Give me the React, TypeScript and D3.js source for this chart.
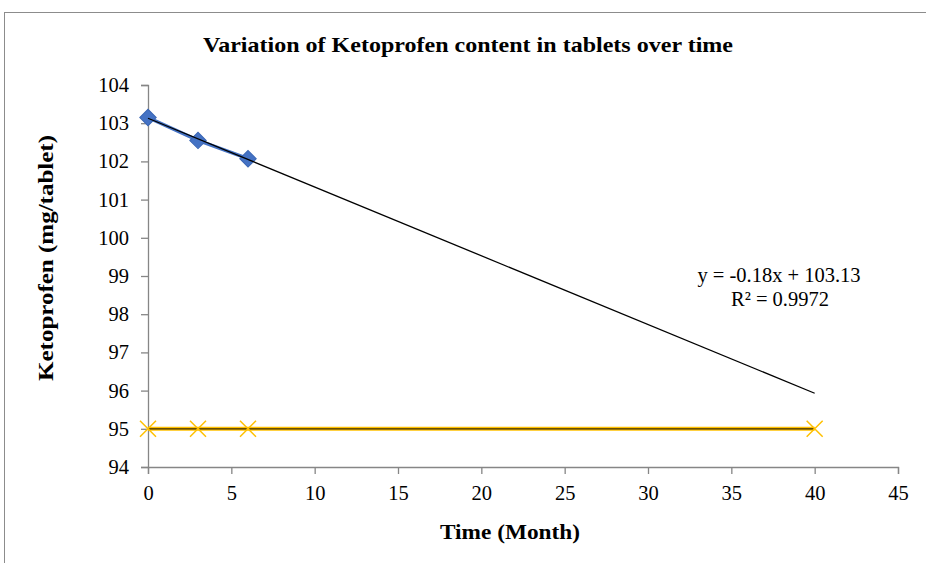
import React, { useEffect, useRef } from 'react';
import * as d3 from 'd3';

const months = [0, 3, 6];
const content = [103.15, 102.55, 102.07];
const limitX = [0, 3, 6, 40];
const limitY = [95, 95, 95, 95];
const trendSlope = -0.18;
const trendIntercept = 103.13;
const trendEnd = 40;
const xTicks = [0, 5, 10, 15, 20, 25, 30, 35, 40, 45];
const yTicks = [94, 95, 96, 97, 98, 99, 100, 101, 102, 103, 104];

const W = 926;
const H = 563;
const font = '"Liberation Serif", "Times New Roman", serif';

const Chart: React.FC = () => {
    const svgRef = useRef<SVGSVGElement>(null);

    useEffect(() => {
        if (!svgRef.current) return;
        const svg = d3.select(svgRef.current);
        svg.selectAll('*').remove();

        const x = d3.scaleLinear().domain([0, 45]).range([148, 898]);
        const y = d3.scaleLinear().domain([94, 104]).range([467, 85]);

        // outer frame (cut off at right and bottom)
        svg.append('rect')
            .attr('x', 4.5).attr('y', 12.5)
            .attr('width', 960).attr('height', 600)
            .style('fill', 'none').style('stroke', '#8c8c8c').style('stroke-width', 1);

        const yAxis = svg.append('g')
            .attr('transform', `translate(${x(0)},0)`)
            .call(d3.axisLeft(y).tickValues(yTicks).tickSize(7).tickPadding(12).tickFormat(d3.format('d')));
        const xAxis = svg.append('g')
            .attr('transform', `translate(0,${y(94)})`)
            .call(d3.axisBottom(x).tickValues(xTicks).tickSize(7).tickPadding(11).tickFormat(d3.format('d')));

        [xAxis, yAxis].forEach(a => {
            a.attr('font-family', null).attr('font-size', null);
            a.select('.domain').style('stroke', '#868686').style('stroke-width', 1.3);
            a.selectAll('.tick line').style('stroke', '#868686').style('stroke-width', 1.3);
            a.selectAll('.tick text')
                .style('font-family', font).style('font-size', '20.5px').style('fill', '#000');
        });

        const line = d3.line<[number, number]>()
            .x(d => x(d[0]))
            .y(d => y(d[1]));

        // limit series
        const limitData = limitX.map((v, i) => [v, limitY[i]] as [number, number]);
        svg.append('path')
            .datum(limitData)
            .attr('d', line)
            .style('fill', 'none').style('stroke', '#FFC000').style('stroke-width', 4);
        svg.append('path')
            .datum([limitData[0], limitData[limitData.length - 1]])
            .attr('d', line)
            .style('fill', 'none').style('stroke', '#3a2a00').style('stroke-width', 1.3);
        limitData.forEach(d => {
            const cx = x(d[0]);
            const cy = y(d[1]);
            const s = 8;
            svg.append('path')
                .attr('d', `M${cx - s},${cy - s}L${cx + s},${cy + s}M${cx - s},${cy + s}L${cx + s},${cy - s}`)
                .style('stroke', '#FFC000').style('stroke-width', 1.5).style('fill', 'none');
        });

        // content series
        const contentData = months.map((m, i) => [m, content[i]] as [number, number]);
        svg.append('path')
            .datum(contentData)
            .attr('d', line)
            .style('fill', 'none').style('stroke', '#4472C4').style('stroke-width', 3.5);
        svg.selectAll('.diamond')
            .data(contentData)
            .join('path')
            .attr('class', 'diamond')
            .attr('d', d3.symbol(d3.symbolSquare, 135)() as string)
            .attr('transform', d => `translate(${x(d[0])},${y(d[1])}) rotate(45)`)
            .style('fill', '#4472C4').style('stroke', '#3a66b5').style('stroke-width', 1);

        // linear trendline
        const trend: [number, number][] = [0, trendEnd].map(v => [v, trendSlope * v + trendIntercept]);
        svg.append('path')
            .datum(trend)
            .attr('d', line)
            .style('fill', 'none').style('stroke', '#000').style('stroke-width', 1.3);

        svg.append('text')
            .attr('x', 779).attr('y', 282)
            .attr('text-anchor', 'middle')
            .style('font-family', font).style('font-size', '20.5px')
            .text(`y = ${trendSlope}x + ${trendIntercept}`);
        svg.append('text')
            .attr('x', 780).attr('y', 306)
            .attr('text-anchor', 'middle')
            .style('font-family', font).style('font-size', '20.5px')
            .text('R² = 0.9972');

        svg.append('text')
            .attr('x', 468).attr('y', 52)
            .attr('text-anchor', 'middle')
            .attr('textLength', 530).attr('lengthAdjust', 'spacingAndGlyphs')
            .style('font-family', font).style('font-size', '22px').style('font-weight', 'bold')
            .text('Variation of Ketoprofen content in tablets over time');

        svg.append('text')
            .attr('transform', `translate(53,258) rotate(-90)`)
            .attr('text-anchor', 'middle')
            .attr('textLength', 246).attr('lengthAdjust', 'spacingAndGlyphs')
            .style('font-family', font).style('font-size', '22px').style('font-weight', 'bold')
            .text('Ketoprofen (mg/tablet)');

        svg.append('text')
            .attr('x', 510).attr('y', 539)
            .attr('text-anchor', 'middle')
            .attr('textLength', 140).attr('lengthAdjust', 'spacingAndGlyphs')
            .style('font-family', font).style('font-size', '22px').style('font-weight', 'bold')
            .text('Time (Month)');
    }, []);

    return (
        <svg ref={svgRef} width={W} height={H}
            style={{ position: 'absolute', left: 0, top: 0, background: '#fff' }} />
    );
};

const App: React.FC = () => <Chart />;

export default App;
